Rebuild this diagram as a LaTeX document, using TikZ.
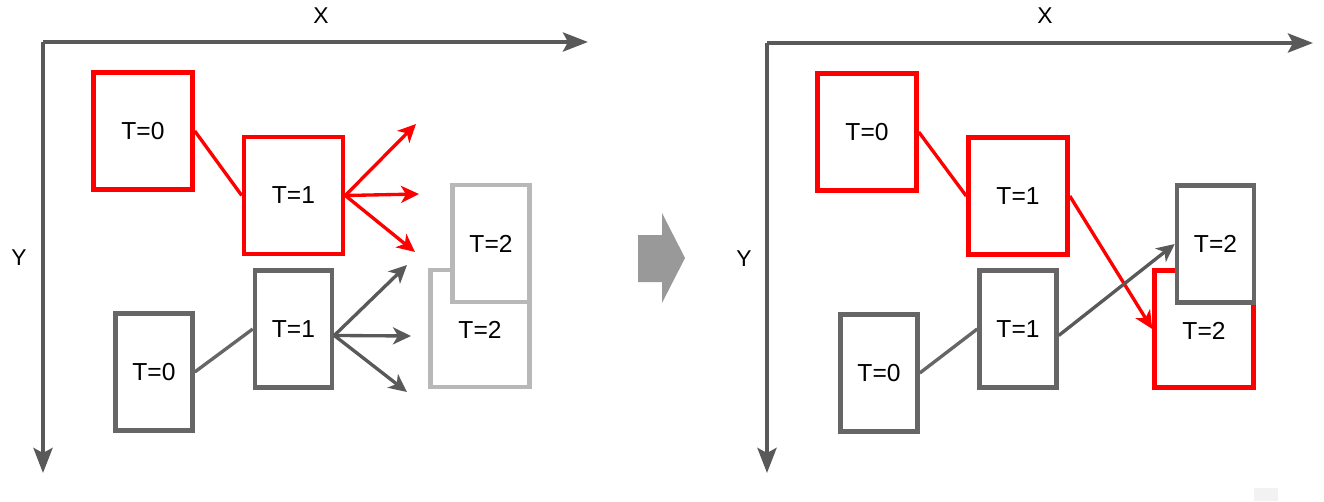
\documentclass[tikz,border=0pt]{standalone}
\usepackage{fontspec}
\setmainfont{Liberation Sans}
\usetikzlibrary{arrows.meta}

\definecolor{axisgray}{HTML}{595959}
\definecolor{boxgray}{HTML}{666666}
\definecolor{ghostgray}{HTML}{B8B8B8}
\definecolor{bigarrow}{HTML}{999999}

\begin{document}
\begin{tikzpicture}[x=0.02cm, y=-0.02cm,
      wide/.style={draw, line width=2.6pt, fill=white, minimum width=1.98cm, minimum height=2.34cm, inner sep=0pt, font=\fontsize{14}{16}\selectfont},
      narrow/.style={wide, minimum width=1.54cm},
      redbox/.style={draw=red},
      graybox/.style={draw=boxgray},
      ghostbox/.style={draw=ghostgray},
      axis/.style={axisgray, line width=2.4pt, -{Stealth[length=0.5cm, width=0.38cm, inset=0.1cm]}},
      move/.style={line width=1.9pt, -{Stealth[length=0.36cm, width=0.34cm, inset=0.1cm]}},
      link/.style={line width=1.9pt}]
      \useasboundingbox (0,0) rectangle (1324,501);

      % left: possible next positions
      \coordinate (O) at (43,42);
      \coordinate (Xend) at (588,42);
      \coordinate (Yend) at (43,473);
      \draw[axis] (O) -- (Xend);
      \draw[axis] (O) -- (Yend);
      \node (X) at (321,16) {\fontsize{13}{15}\selectfont X};
      \node (Y) at (19,258) {\fontsize{13}{15}\selectfont Y};

      \node (rA) [wide, redbox] at (143,131) {T=0};
      \node (rB) [wide, redbox] at (293.5,195.5) {T=1};
      \node (gA) [narrow, graybox] at (154,372) {T=0};
      \node (gB) [narrow, graybox] at (293.5,329) {T=1};
      \node (hB) [wide, ghostbox] at (480,328.5) {};
      \node (hBlabel) at (480,330) {\fontsize{14}{16}\selectfont T=2};
      \node (hA) [narrow, ghostbox] at (491,243.5) {T=2};

      \coordinate (r1) at (416,124);
      \coordinate (r2) at (419,194);
      \coordinate (r3) at (415,252);
      \coordinate (g1) at (407,265);
      \coordinate (g2) at (411,336);
      \coordinate (g3) at (407,392);

       \draw[link, red] (rA.east) to (rB.west);
       \draw[link, boxgray] (gA.east) to (gB.west);
       \foreach \t in {r1,r2,r3}
         \draw[move, red] (rB.east) to (\t);
       \foreach \t in {g1,g2,g3}
         \draw[move, axisgray] (gB.-9) to (\t);

      % middle arrow
      \fill[bigarrow] (638,235) -- (662,235) -- (662,213) -- (685,258) -- (662,303) -- (662,282) -- (638,282) -- cycle;

      % right: chosen positions
      \coordinate (O2) at (767,43);
      \coordinate (Xend2) at (1313,43);
      \coordinate (Yend2) at (767,473);
      \draw[axis] (O2) -- (Xend2);
      \draw[axis] (O2) -- (Yend2);
      \node (X2) at (1045,16) {\fontsize{13}{15}\selectfont X};
      \node (Y2) at (744,259) {\fontsize{13}{15}\selectfont Y};

      \node (rA2) [wide, redbox] at (867,132) {T=0};
      \node (rB2) [wide, redbox] at (1018,196) {T=1};
      \node (rC2) [wide, redbox] at (1204,329) {};
      \node (rC2label) at (1204,331) {\fontsize{14}{16}\selectfont T=2};
      \node (gA2) [narrow, graybox] at (879,373) {T=0};
      \node (gB2) [narrow, graybox] at (1018,329) {T=1};
      \node (gC2) [narrow, graybox] at (1215.5,244) {T=2};

       \draw[link, red] (rA2.east) to (rB2.west);
       \draw[link, boxgray] (gA2.east) to (gB2.west);
       \draw[move, red] (rB2.east) to (rC2.west);
       \draw[move, axisgray] (gB2.-9) to (gC2.west);

      \fill[black!5] (1254,488) rectangle (1278,501);
\end{tikzpicture}
\end{document}
